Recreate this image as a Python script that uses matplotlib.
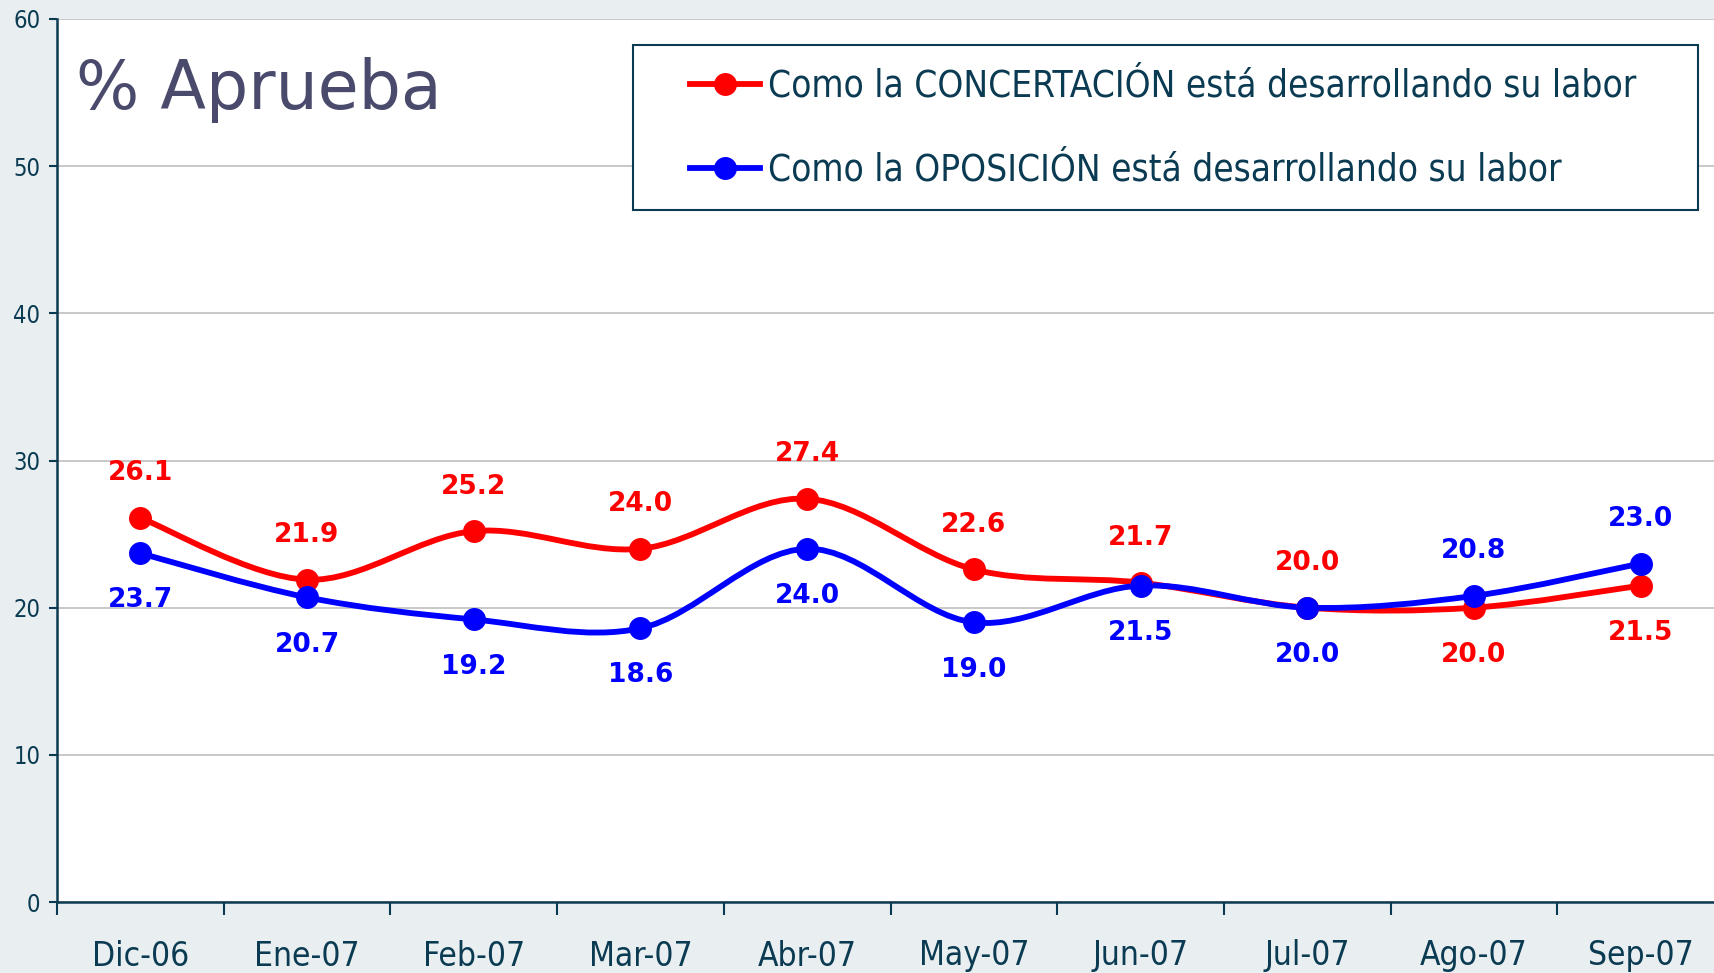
import numpy as np
import matplotlib.pyplot as plt
from matplotlib.path import Path
from matplotlib.patches import PathPatch, Rectangle
from matplotlib.lines import Line2D
from matplotlib.font_manager import FontProperties

meses = ["Dic-06", "Ene-07", "Feb-07", "Mar-07", "Abr-07",
         "May-07", "Jun-07", "Jul-07", "Ago-07", "Sep-07"]
concertacion = [26.1, 21.9, 25.2, 24.0, 27.4, 22.6, 21.7, 20.0, 20.0, 21.5]
oposicion = [23.7, 20.7, 19.2, 18.6, 24.0, 19.0, 21.5, 20.0, 20.8, 23.0]
# 1 = etiqueta arriba, -1 = abajo
pos_conc = [1, 1, 1, 1, 1, 1, 1, 1, -1, -1]
pos_opo = [-1, -1, -1, -1, -1, -1, -1, -1, 1, 1]

rojo = "#ff0000"
azul = "#0000ff"
oscuro = "#0b3b52"
fondo = "#e9eef0"


def cond(size):
    return FontProperties(family="DejaVu Sans", stretch="condensed", size=size)


def smooth_path(x, y):
    # curva suave tipo Excel (bezier con tangentes catmull-rom)
    p = np.column_stack([x, y]).astype(float)
    n = len(p)
    verts = [p[0]]
    codes = [Path.MOVETO]
    for i in range(n - 1):
        p0 = p[i - 1] if i > 0 else p[i]
        p1 = p[i]
        p2 = p[i + 1]
        p3 = p[i + 2] if i + 2 < n else p[i + 1]
        c1 = p1 + (p2 - p0) / 6
        c2 = p2 - (p3 - p1) / 6
        verts += [c1, c2, p2]
        codes += [Path.CURVE4] * 3
    return Path(verts, codes)


fig = plt.figure(figsize=(17.15, 9.73), dpi=100, facecolor=fondo)
ax = fig.add_axes([57 / 1715, 71 / 973, 1667 / 1715, 883 / 973])
ax.set_facecolor("white")

x = np.arange(len(meses)) + 0.5
for serie, color in [(concertacion, rojo), (oposicion, azul)]:
    ax.add_patch(PathPatch(smooth_path(x, serie), facecolor="none",
                           edgecolor=color, lw=4.2, capstyle="round",
                           joinstyle="round", zorder=3))
    ax.plot(x, serie, "o", color=color, ms=15.5, zorder=4)

for serie, pos, color in [(concertacion, pos_conc, rojo), (oposicion, pos_opo, azul)]:
    for xi, v, p in zip(x, serie, pos):
        ax.annotate(f"{v:.1f}", (xi, v), xytext=(0, 32 * p if p > 0 else 34 * p),
                    textcoords="offset points", ha="center", va="center",
                    color=color, fontsize=19, fontweight="bold",
                    family="DejaVu Sans", zorder=5)

ax.set_xlim(0, len(meses))
ax.set_ylim(0, 60)
ax.set_yticks(range(0, 61, 10))
ax.grid(axis="y", color="#c4c4c4", lw=1.3)
ax.set_axisbelow(True)

ax.set_xticks(range(len(meses) + 1))
ax.set_xticklabels([])
ax.set_xticks(x, minor=True)
ax.set_xticklabels(meses, minor=True, fontproperties=cond(24), color=oscuro)
ax.tick_params(axis="x", which="major", length=9, width=1.5, color=oscuro)
ax.tick_params(axis="x", which="minor", length=0, pad=27)
ax.tick_params(axis="y", length=6, width=1.5, color=oscuro, pad=6,
               labelcolor=oscuro)
for lab in ax.get_yticklabels():
    lab.set_fontproperties(cond(17))

for s in ["top", "right"]:
    ax.spines[s].set_visible(False)
for s in ["left", "bottom"]:
    ax.spines[s].set_color(oscuro)
    ax.spines[s].set_linewidth(1.8)

fig.text(76 / 1715, 1 - 90 / 973, "% Aprueba", fontsize=48, color="#4a4a6c",
         va="center", ha="left", family="DejaVu Sans")

# marco de la leyenda
fig.patches.append(Rectangle((633 / 1715, 1 - 210 / 973), 1065 / 1715, 165 / 973,
                             transform=fig.transFigure, facecolor="white",
                             edgecolor=oscuro, lw=1.5, zorder=1))

handles = [Line2D([], [], color=rojo, lw=4.2, marker="o", ms=15.5),
           Line2D([], [], color=azul, lw=4.2, marker="o", ms=15.5)]
leg = fig.legend(handles,
                 ["Como la CONCERTACIÓN está desarrollando su labor",
                  "Como la OPOSICIÓN está desarrollando su labor"],
                 loc="center left", bbox_to_anchor=(690 / 1715, 1 - 128 / 973),
                 frameon=False, handlelength=1.9, handletextpad=0.22,
                 labelspacing=1.28, borderpad=0, borderaxespad=0,
                 prop=cond(26.5))
for t in leg.get_texts():
    t.set_color(oscuro)

fig.savefig("out.png", dpi=100, facecolor=fondo)
